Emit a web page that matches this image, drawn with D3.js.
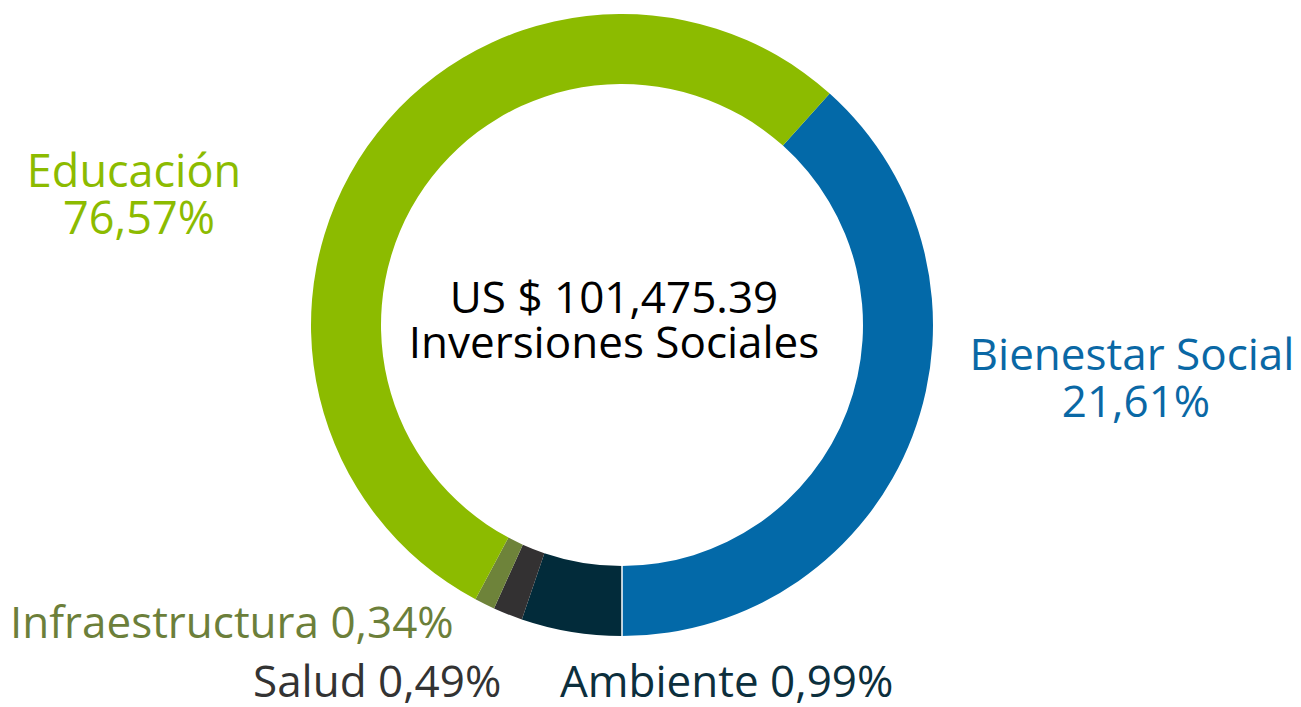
<!DOCTYPE html>
<html>
<head>
<meta charset="utf-8">
<script src="https://cdn.jsdelivr.net/npm/d3@7"></script>
<style>
  body { margin: 0; background: #fff; }
  svg { display: block; font-family: "Open Sans", sans-serif; }
</style>
</head>
<body>
<svg id="donut" width="1301" height="707"></svg>
<script>
// Slices in drawing order (clockwise from the blue/green edge)
const categories = ["Bienestar Social", "Ambiente", "Salud", "Infraestructura", "Educación"];
// share of the ring as drawn in the picture (%), not the printed labels
const drawnShares = [38.36, 5.22, 1.53, 1.06, 53.83];
// printed percentages
const labelValues = ["21,61%", "0,99%", "0,49%", "0,34%", "76,57%"];
const colors = ["#0369a8", "#022b3a", "#333132", "#6e833a", "#8cbb00"];
const textColors = ["#0a68a5", "#0c2f3d", "#333333", "#6c7f3a", "#8cbb00"];
const centerLines = ["US $ 101,475.39", "Inversiones Sociales"];

const width = 1301;
const height = 707;
const cx = 622, cy = 325;
const rOuter = 311, rInner = 241;
const startDeg = 41.9; // where blue starts

const svg = d3.select("#donut");

const data = categories.map((c, i) => ({
  name: c,
  value: drawnShares[i],
  label: labelValues[i],
  color: colors[i],
  textColor: textColors[i]
}));

const pie = d3.pie()
  .sort(null)
  .value(d => d.value)
  .startAngle(startDeg * Math.PI / 180)
  .endAngle(startDeg * Math.PI / 180 + 2 * Math.PI);

const arc = d3.arc()
  .innerRadius(rInner)
  .outerRadius(rOuter);

const g = svg.append("g").attr("transform", `translate(${cx},${cy})`);

g.selectAll("path")
  .data(pie(data))
  .enter()
  .append("path")
  .attr("d", arc)
  .attr("fill", d => d.data.color);

// thin white gap at the bottom between blue and navy
g.append("line")
  .attr("x1", 0).attr("y1", rInner - 1)
  .attr("x2", 0).attr("y2", rOuter + 1)
  .attr("stroke", "#fff")
  .attr("stroke-width", 1.5);

// center text, one element with two lines
const center = svg.append("text")
  .attr("text-anchor", "middle")
  .attr("font-size", 44)
  .attr("fill", "#000");
center.selectAll("tspan")
  .data(centerLines)
  .enter()
  .append("tspan")
  .attr("x", 614)
  .attr("y", (d, i) => 313 + i * 45)
  .text(d => d);

const byName = {};
data.forEach(d => byName[d.name] = d);

const labels = svg.append("g").attr("font-size", 44);

// two-line labels (name over value), centred
const twoLine = [
  { name: "Educación", x: [134, 139], y: 187, size: 45 },
  { name: "Bienestar Social", x: [1132, 1136], y: 370, size: 44 }
];
twoLine.forEach(t => {
  const d = byName[t.name];
  const txt = labels.append("text")
    .attr("text-anchor", "middle")
    .attr("font-size", t.size)
    .attr("fill", d.textColor);
  txt.append("tspan").attr("x", t.x[0]).attr("y", t.y).text(d.name);
  txt.append("tspan").attr("x", t.x[1]).attr("y", t.y + 47).text(d.label);
});

// one-line labels at the bottom
const bottom = [
  { name: "Infraestructura", x: 10, y: 638 },
  { name: "Salud", x: 253, y: 697 },
  { name: "Ambiente", x: 560, y: 697 }
];
labels.selectAll(".one")
  .data(bottom)
  .enter()
  .append("text")
  .attr("class", "one")
  .attr("x", d => d.x)
  .attr("y", d => d.y)
  .attr("fill", d => byName[d.name].textColor)
  .text(d => d.name + " " + byName[d.name].label);
</script>
</body>
</html>
